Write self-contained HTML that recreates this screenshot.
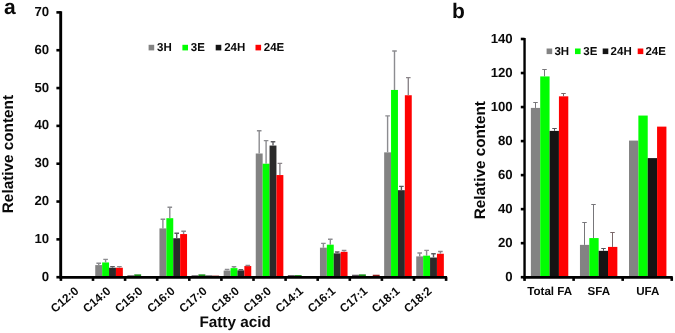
<!DOCTYPE html><html><head><meta charset="utf-8"><style>
html,body{margin:0;padding:0;background:#fff;}
svg{display:block;font-family:"Liberation Sans",sans-serif;font-weight:bold;fill:#0a0a0a;will-change:transform;text-rendering:geometricPrecision;}
</style></head><body>
<svg width="675" height="333" viewBox="0 0 675 333">
<rect width="675" height="333" fill="#fff"/>
<rect x="95.25" y="265.09" width="6.9" height="12.11" fill="#838383"/>
<path d="M98.7 265.09V263.2M96.4 263.2H101" stroke="#8c8c90" stroke-width="1.4" fill="none"/>
<rect x="102.15" y="262.45" width="6.9" height="14.75" fill="#02fe02"/>
<path d="M105.6 262.45V259.42M103.3 259.42H107.9" stroke="#8c8c90" stroke-width="1.4" fill="none"/>
<rect x="109.05" y="267.74" width="6.9" height="9.46" fill="#2a2a2a"/>
<path d="M112.5 267.74V266.61M110.2 266.61H114.8" stroke="#5c5c60" stroke-width="1.4" fill="none"/>
<rect x="115.95" y="267.74" width="6.9" height="9.46" fill="#fe0202"/>
<path d="M119.4 267.74V266.61M117.1 266.61H121.7" stroke="#8c868a" stroke-width="1.4" fill="none"/>
<rect x="127.35" y="275.31" width="6.9" height="1.89" fill="#5c545c"/>
<rect x="134.25" y="274.36" width="6.9" height="2.84" fill="#188c18"/>
<rect x="141.15" y="276.07" width="6.9" height="1.13" fill="#222"/>
<rect x="148.05" y="276.07" width="6.9" height="1.13" fill="#8c1a1a"/>
<rect x="159.45" y="228.4" width="6.9" height="48.8" fill="#838383"/>
<path d="M162.9 228.4V219.32M160.6 219.32H165.2" stroke="#8c8c90" stroke-width="1.4" fill="none"/>
<rect x="166.35" y="218.19" width="6.9" height="59.01" fill="#02fe02"/>
<path d="M169.8 218.19V207.21M167.5 207.21H172.1" stroke="#8c8c90" stroke-width="1.4" fill="none"/>
<rect x="173.25" y="238.24" width="6.9" height="38.96" fill="#2a2a2a"/>
<path d="M176.7 238.24V233.32M174.4 233.32H179" stroke="#5c5c60" stroke-width="1.4" fill="none"/>
<rect x="180.15" y="234.07" width="6.9" height="43.13" fill="#fe0202"/>
<path d="M183.6 234.07V231.24M181.3 231.24H185.9" stroke="#8c868a" stroke-width="1.4" fill="none"/>
<rect x="191.55" y="275.31" width="6.9" height="1.89" fill="#5c545c"/>
<rect x="198.45" y="274.36" width="6.9" height="2.84" fill="#188c18"/>
<rect x="205.35" y="275.5" width="6.9" height="1.7" fill="#222"/>
<rect x="212.25" y="275.61" width="6.9" height="1.59" fill="#8c1a1a"/>
<rect x="223.65" y="270.58" width="6.9" height="6.62" fill="#838383"/>
<path d="M227.1 270.58V269.44M224.8 269.44H229.4" stroke="#8c8c90" stroke-width="1.4" fill="none"/>
<rect x="230.55" y="268.12" width="6.9" height="9.08" fill="#02fe02"/>
<path d="M234 268.12V266.68M231.7 266.68H236.3" stroke="#8c8c90" stroke-width="1.4" fill="none"/>
<rect x="237.45" y="270.39" width="6.9" height="6.81" fill="#2a2a2a"/>
<path d="M240.9 270.39V269.82M238.6 269.82H243.2" stroke="#5c5c60" stroke-width="1.4" fill="none"/>
<rect x="244.35" y="266.04" width="6.9" height="11.16" fill="#fe0202"/>
<path d="M247.8 266.04V265.55M245.5 265.55H250.1" stroke="#8c868a" stroke-width="1.4" fill="none"/>
<rect x="255.75" y="153.5" width="6.9" height="123.7" fill="#838383"/>
<path d="M259.2 153.5V130.8M256.9 130.8H261.5" stroke="#8c8c90" stroke-width="1.4" fill="none"/>
<rect x="262.65" y="163.71" width="6.9" height="113.49" fill="#02fe02"/>
<path d="M266.1 163.71V140.63M263.8 140.63H268.4" stroke="#8c8c90" stroke-width="1.4" fill="none"/>
<rect x="269.55" y="145.55" width="6.9" height="131.65" fill="#2a2a2a"/>
<path d="M273 145.55V141.77M270.7 141.77H275.3" stroke="#5c5c60" stroke-width="1.4" fill="none"/>
<rect x="276.45" y="175.06" width="6.9" height="102.14" fill="#fe0202"/>
<path d="M279.9 175.06V163.33M277.6 163.33H282.2" stroke="#8c868a" stroke-width="1.4" fill="none"/>
<rect x="287.85" y="275.12" width="6.9" height="2.08" fill="#5c545c"/>
<rect x="294.75" y="275.12" width="6.9" height="2.08" fill="#188c18"/>
<rect x="301.65" y="276.07" width="6.9" height="1.13" fill="#222"/>
<rect x="308.55" y="276.07" width="6.9" height="1.13" fill="#8c1a1a"/>
<rect x="319.95" y="247.69" width="6.9" height="29.51" fill="#838383"/>
<path d="M323.4 247.69V243.34M321.1 243.34H325.7" stroke="#8c8c90" stroke-width="1.4" fill="none"/>
<rect x="326.85" y="244.67" width="6.9" height="32.53" fill="#02fe02"/>
<path d="M330.3 244.67V239.18M328 239.18H332.6" stroke="#8c8c90" stroke-width="1.4" fill="none"/>
<rect x="333.75" y="253.37" width="6.9" height="23.83" fill="#2a2a2a"/>
<path d="M337.2 253.37V252.04M334.9 252.04H339.5" stroke="#5c5c60" stroke-width="1.4" fill="none"/>
<rect x="340.65" y="251.85" width="6.9" height="25.35" fill="#fe0202"/>
<path d="M344.1 251.85V250.53M341.8 250.53H346.4" stroke="#8c868a" stroke-width="1.4" fill="none"/>
<rect x="352.05" y="274.74" width="6.9" height="2.46" fill="#5c545c"/>
<rect x="358.95" y="274.36" width="6.9" height="2.84" fill="#188c18"/>
<rect x="365.85" y="276.07" width="6.9" height="1.13" fill="#222"/>
<rect x="372.75" y="274.74" width="6.9" height="2.46" fill="#8c1a1a"/>
<rect x="384.15" y="152.36" width="6.9" height="124.84" fill="#838383"/>
<path d="M387.6 152.36V115.86M385.3 115.86H389.9" stroke="#8c8c90" stroke-width="1.4" fill="none"/>
<rect x="391.05" y="89.94" width="6.9" height="187.26" fill="#02fe02"/>
<path d="M394.5 89.94V50.98M392.2 50.98H396.8" stroke="#8c8c90" stroke-width="1.4" fill="none"/>
<rect x="397.95" y="190.19" width="6.9" height="87.01" fill="#2a2a2a"/>
<path d="M401.4 190.19V186.41M399.1 186.41H403.7" stroke="#5c5c60" stroke-width="1.4" fill="none"/>
<rect x="404.85" y="95.24" width="6.9" height="181.96" fill="#fe0202"/>
<path d="M408.3 95.24V77.61M406 77.61H410.6" stroke="#8c868a" stroke-width="1.4" fill="none"/>
<rect x="416.25" y="256.39" width="6.9" height="20.81" fill="#838383"/>
<path d="M419.7 256.39V252.99M417.4 252.99H422" stroke="#8c8c90" stroke-width="1.4" fill="none"/>
<rect x="423.15" y="255.64" width="6.9" height="21.56" fill="#02fe02"/>
<path d="M426.6 255.64V250.34M424.3 250.34H428.9" stroke="#8c8c90" stroke-width="1.4" fill="none"/>
<rect x="430.05" y="257.53" width="6.9" height="19.67" fill="#2a2a2a"/>
<path d="M433.5 257.53V253.75M431.2 253.75H435.8" stroke="#5c5c60" stroke-width="1.4" fill="none"/>
<rect x="436.95" y="253.75" width="6.9" height="23.45" fill="#fe0202"/>
<path d="M440.4 253.75V251.48M438.1 251.48H442.7" stroke="#8c868a" stroke-width="1.4" fill="none"/>
<g stroke="#000" stroke-width="2.4" fill="none">
<path d="M60.7 11.2V278.5" stroke-width="2.9"/>
<path d="M59.7 277.3H447.1" stroke-width="2.7"/>
</g><g stroke="#000" stroke-width="2.2" fill="none">
<path d="M56.4 277.2H60.9" stroke-width="2.6"/>
<path d="M56.4 239.37H60.9" stroke-width="2.6"/>
<path d="M56.4 201.54H60.9" stroke-width="2.6"/>
<path d="M56.4 163.71H60.9" stroke-width="2.6"/>
<path d="M56.4 125.88H60.9" stroke-width="2.6"/>
<path d="M56.4 88.05H60.9" stroke-width="2.6"/>
<path d="M56.4 50.22H60.9" stroke-width="2.6"/>
<path d="M56.4 12.39H60.9" stroke-width="2.6"/>
<path d="M60.9 277.2V280.9" stroke-width="2.6"/>
<path d="M93 277.2V280.9" stroke-width="2.6"/>
<path d="M125.1 277.2V280.9" stroke-width="2.6"/>
<path d="M157.2 277.2V280.9" stroke-width="2.6"/>
<path d="M189.3 277.2V280.9" stroke-width="2.6"/>
<path d="M221.4 277.2V280.9" stroke-width="2.6"/>
<path d="M253.5 277.2V280.9" stroke-width="2.6"/>
<path d="M285.6 277.2V280.9" stroke-width="2.6"/>
<path d="M317.7 277.2V280.9" stroke-width="2.6"/>
<path d="M349.8 277.2V280.9" stroke-width="2.6"/>
<path d="M381.9 277.2V280.9" stroke-width="2.6"/>
<path d="M414 277.2V280.9" stroke-width="2.6"/>
<path d="M446.1 277.2V280.9" stroke-width="2.6"/>
</g>
<text x="49.1" y="280.7" font-size="13.2" text-anchor="end">0</text>
<text x="49.1" y="242.87" font-size="13.2" text-anchor="end">10</text>
<text x="49.1" y="205.04" font-size="13.2" text-anchor="end">20</text>
<text x="49.1" y="167.21" font-size="13.2" text-anchor="end">30</text>
<text x="49.1" y="129.38" font-size="13.2" text-anchor="end">40</text>
<text x="49.1" y="91.55" font-size="13.2" text-anchor="end">50</text>
<text x="49.1" y="53.72" font-size="13.2" text-anchor="end">60</text>
<text x="49.1" y="15.89" font-size="13.2" text-anchor="end">70</text>
<text font-size="11.8" text-anchor="end" transform="translate(79.35 292.1) rotate(-41)">C12:0</text>
<text font-size="11.8" text-anchor="end" transform="translate(111.45 292.1) rotate(-41)">C14:0</text>
<text font-size="11.8" text-anchor="end" transform="translate(143.55 292.1) rotate(-41)">C15:0</text>
<text font-size="11.8" text-anchor="end" transform="translate(175.65 292.1) rotate(-41)">C16:0</text>
<text font-size="11.8" text-anchor="end" transform="translate(207.75 292.1) rotate(-41)">C17:0</text>
<text font-size="11.8" text-anchor="end" transform="translate(239.85 292.1) rotate(-41)">C18:0</text>
<text font-size="11.8" text-anchor="end" transform="translate(271.95 292.1) rotate(-41)">C19:0</text>
<text font-size="11.8" text-anchor="end" transform="translate(304.05 292.1) rotate(-41)">C14:1</text>
<text font-size="11.8" text-anchor="end" transform="translate(336.15 292.1) rotate(-41)">C16:1</text>
<text font-size="11.8" text-anchor="end" transform="translate(368.25 292.1) rotate(-41)">C17:1</text>
<text font-size="11.8" text-anchor="end" transform="translate(400.35 292.1) rotate(-41)">C18:1</text>
<text font-size="11.8" text-anchor="end" transform="translate(432.45 292.1) rotate(-41)">C18:2</text>
<text x="199.4" y="327.4" font-size="15.3">Fatty acid</text>
<text font-size="15.3" text-anchor="middle" transform="translate(12.8 154.1) rotate(-90)">Relative content</text>
<text x="4" y="14" font-size="21">a</text>
<rect x="148.6" y="44.8" width="5.6" height="5.6" fill="#838383"/>
<text x="157.1" y="51.4" font-size="11.5">3H</text>
<rect x="182.4" y="44.8" width="5.6" height="5.6" fill="#02fe02"/>
<text x="190.8" y="51.4" font-size="11.5">3E</text>
<rect x="215.7" y="44.8" width="5.6" height="5.6" fill="#141414"/>
<text x="224.2" y="51.4" font-size="11.5">24H</text>
<rect x="255.5" y="44.8" width="5.6" height="5.6" fill="#fe0202"/>
<text x="263.8" y="51.4" font-size="11.5">24E</text>
<rect x="530.88" y="107.91" width="9.35" height="169.29" fill="#838383"/>
<path d="M535.5 107.91V102.5M533.25 102.5H537.75" stroke="#77767a" stroke-width="1" fill="none"/>
<rect x="540.23" y="76.43" width="9.35" height="200.77" fill="#02fe02"/>
<path d="M544.5 76.43V69.5M542.25 69.5H546.75" stroke="#77767a" stroke-width="1" fill="none"/>
<rect x="549.58" y="130.88" width="9.35" height="146.32" fill="#141414"/>
<path d="M554.5 130.88V128.5M552.25 128.5H556.75" stroke="#55555a" stroke-width="1" fill="none"/>
<rect x="558.93" y="96.34" width="9.35" height="180.86" fill="#fe0202"/>
<path d="M563.5 96.34V93.5M561.25 93.5H565.75" stroke="#7a686a" stroke-width="1" fill="none"/>
<rect x="579.95" y="244.87" width="9.35" height="32.33" fill="#838383"/>
<path d="M584.5 244.87V222.5M582.25 222.5H586.75" stroke="#77767a" stroke-width="1" fill="none"/>
<rect x="589.3" y="238.07" width="9.35" height="39.13" fill="#02fe02"/>
<path d="M593.5 238.07V204.5M591.25 204.5H595.75" stroke="#77767a" stroke-width="1" fill="none"/>
<rect x="598.65" y="250.83" width="9.35" height="26.37" fill="#141414"/>
<path d="M603.5 250.83V248.5M601.25 248.5H605.75" stroke="#55555a" stroke-width="1" fill="none"/>
<rect x="608" y="246.91" width="9.35" height="30.29" fill="#fe0202"/>
<path d="M612.5 246.91V232.5M610.25 232.5H614.75" stroke="#7a686a" stroke-width="1" fill="none"/>
<rect x="629.02" y="140.58" width="9.35" height="136.62" fill="#838383"/>
<rect x="638.37" y="115.56" width="9.35" height="161.64" fill="#02fe02"/>
<rect x="647.72" y="158.1" width="9.35" height="119.1" fill="#141414"/>
<rect x="657.07" y="126.62" width="9.35" height="150.58" fill="#fe0202"/>
<g stroke="#000" stroke-width="2.4" fill="none">
<path d="M524.55 38V278.5"/>
<path d="M523.35 277.3H672.75" stroke-width="2.7"/>
</g><g stroke="#000" stroke-width="2.2" fill="none">
<path d="M520.8 277.2H524.55" stroke-width="2.6"/>
<path d="M520.8 243.17H524.55" stroke-width="2.6"/>
<path d="M520.8 209.14H524.55" stroke-width="2.6"/>
<path d="M520.8 175.11H524.55" stroke-width="2.6"/>
<path d="M520.8 141.09H524.55" stroke-width="2.6"/>
<path d="M520.8 107.06H524.55" stroke-width="2.6"/>
<path d="M520.8 73.03H524.55" stroke-width="2.6"/>
<path d="M520.8 39H524.55" stroke-width="2.6"/>
<path d="M524.55 277.2V280.9" stroke-width="2.6"/>
<path d="M573.62 277.2V280.9" stroke-width="2.6"/>
<path d="M622.68 277.2V280.9" stroke-width="2.6"/>
<path d="M671.75 277.2V280.9" stroke-width="2.6"/>
</g>
<text x="512.7" y="280.9" font-size="13.2" text-anchor="end">0</text>
<text x="512.7" y="246.87" font-size="13.2" text-anchor="end">20</text>
<text x="512.7" y="212.84" font-size="13.2" text-anchor="end">40</text>
<text x="512.7" y="178.81" font-size="13.2" text-anchor="end">60</text>
<text x="512.7" y="144.79" font-size="13.2" text-anchor="end">80</text>
<text x="512.7" y="110.76" font-size="13.2" text-anchor="end">100</text>
<text x="512.7" y="76.73" font-size="13.2" text-anchor="end">120</text>
<text x="512.7" y="42.7" font-size="13.2" text-anchor="end">140</text>
<text x="549.68" y="295.2" font-size="11.6" text-anchor="middle">Total FA</text>
<text x="598.75" y="295.2" font-size="11.6" text-anchor="middle">SFA</text>
<text x="647.82" y="295.2" font-size="11.6" text-anchor="middle">UFA</text>
<text font-size="15.3" text-anchor="middle" transform="translate(484.6 160.2) rotate(-90)">Relative content</text>
<text x="452" y="18.4" font-size="21">b</text>
<rect x="546.6" y="48.5" width="5.6" height="5.6" fill="#838383"/>
<text x="554.4" y="54.7" font-size="11.5">3H</text>
<rect x="575" y="48.5" width="5.6" height="5.6" fill="#02fe02"/>
<text x="583.3" y="54.7" font-size="11.5">3E</text>
<rect x="602.7" y="48.5" width="5.6" height="5.6" fill="#141414"/>
<text x="610.6" y="54.7" font-size="11.5">24H</text>
<rect x="637.7" y="48.5" width="5.6" height="5.6" fill="#fe0202"/>
<text x="645.4" y="54.7" font-size="11.5">24E</text>
</svg></body></html>
